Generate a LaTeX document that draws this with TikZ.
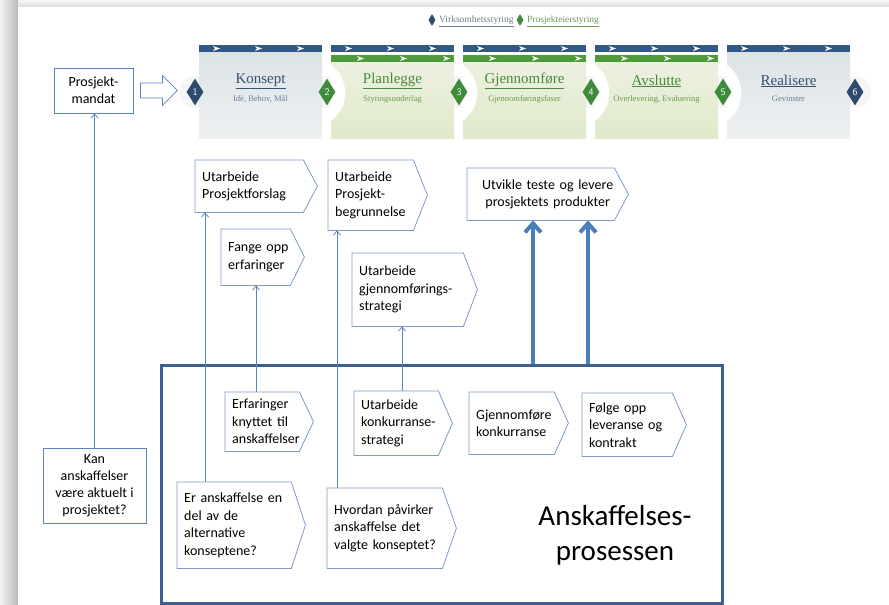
\documentclass[tikz,border=0pt]{standalone}
\usepackage{fontspec}
\setmainfont{Carlito}
\newfontfamily\phasefont{Liberation Serif}
\usetikzlibrary{shapes.geometric, arrows.meta}

\definecolor{barblue}{HTML}{2F5A88}
\definecolor{bargreen}{HTML}{4D9B3B}
\definecolor{trinnblue}{HTML}{2C4B6E}
\definecolor{trinngreen}{HTML}{3E8B3A}
\definecolor{titleblue}{HTML}{3B4F72}
\definecolor{titlegreen}{HTML}{4A8A3A}
\definecolor{subblue}{HTML}{6C7E96}
\definecolor{subgreen}{HTML}{6E9A55}
\definecolor{chevblue}{HTML}{7D9BC4}
\definecolor{linkblue}{HTML}{5B83BD}
\definecolor{thickblue}{HTML}{4A7EBB}
\definecolor{frameblue}{HTML}{3F5F8F}
\definecolor{fillblue}{HTML}{DCE3E6}
\definecolor{fillblue2}{HTML}{EEF1F2}
\definecolor{fillgreen}{HTML}{ECF1E0}
\definecolor{fillgreen2}{HTML}{E0E9CB}

\tikzset{
  chev/.style={anchor=north west, align=left, inner xsep=7pt, inner ysep=2pt,
    font=\fontsize{14}{17.5}\selectfont},
  chevline/.style={draw=chevblue, line width=0.8pt, line join=miter},
  plainbox/.style={draw=linkblue, line width=0.8pt, align=center,
    font=\fontsize{14}{17}\selectfont},
  thinarrow/.style={draw=linkblue, line width=0.8pt, -{Straight Barb[length=4pt,width=7pt]}},
  thickarrow/.style={draw=thickblue, line width=4pt, -{Straight Barb[length=9pt,width=16pt]}},
  phasetitle/.style={font=\phasefont\fontsize{15}{17}\selectfont},
  phasesub/.style={font=\phasefont\fontsize{8.5}{10}\selectfont},
  trinn/.style={diamond, inner sep=0pt, minimum width=17pt, minimum height=27pt,
    text=white, font=\sffamily\fontsize{10}{11}\selectfont},
  legtext/.style={anchor=west, inner sep=1pt, font=\phasefont\fontsize{9.5}{11}\selectfont},
}

\begin{document}
\begin{tikzpicture}[x=1pt, y=-1pt]
  % page and shadow
  \fill[gray!14] (0,0) rectangle (889,605);
  \shade[left color=gray!10, right color=gray!55] (0,0) rectangle (18,605);
  \shade[top color=gray!6, bottom color=gray!28] (18,0) rectangle (889,7);
  \fill[white] (18,7) rectangle (889,605);
  \useasboundingbox (0,0) rectangle (889,605);

  % legend
  \node[diamond, fill=trinnblue, minimum width=7pt, minimum height=12pt, inner sep=0pt] (legblue) at (432,20) {};
  \node[legtext, text=subblue] (legvirk) at (438,21) {\underline{Virksomhetsstyring}};
  \node[diamond, fill=trinngreen, minimum width=7pt, minimum height=12pt, inner sep=0pt] (leggreen) at (520,20) {};
  \node[legtext, text=subgreen] (legeier) at (526,21) {\underline{Prosjekteierstyring}};

  % phase strip
  \foreach \x in {195,327,459,591,723,855}
    \fill[gray!7] (\x,92) circle (16);
  \foreach \x/\top/\fa/\fb/\tc/\sc/\tittel/\undertekst in {
      199/52/fillblue/fillblue2/titleblue/subblue/Konsept/{Idè, Behov, Mål},
      331/62/fillgreen/fillgreen2/titlegreen/subgreen/Planlegge/Styringsunderlag,
      463/62/fillgreen/fillgreen2/titlegreen/subgreen/Gjennomføre/Gjennomføringsfaser,
      595/62/fillgreen/fillgreen2/titlegreen/subgreen/Avslutte/{Overlevering, Evaluering},
      727/52/fillblue/fillblue2/titleblue/subblue/Realisere/Gevinster} {
    \shade[top color=\fa, bottom color=\fb] (\x,\top) rectangle ({\x+123},138);
    \fill[barblue] (\x,45) rectangle ({\x+123},52);
    \foreach \dx in {14,56,98}
      \fill[white] ({\x+\dx},46) -- ++(7,2.5) -- ++(-7,2.5) -- ++(2,-2.5) -- cycle;
    \node[phasetitle, text=\tc] (tittel\x) at ({\x+61.5},81) {\underline{\tittel}};
    \node[phasesub, text=\sc] (under\x) at ({\x+61.5},99) {\undertekst};
  }
  \foreach \x in {331,463,595} {
    \fill[bargreen] (\x,55) rectangle ({\x+123},62);
    \foreach \dx in {26,69,112}
      \fill[white] ({\x+\dx},56) -- ++(7,2.5) -- ++(-7,2.5) -- ++(2,-2.5) -- cycle;
  }
  \foreach \x in {331,463,595,727}
    \fill[white] (\x,65) .. controls ({\x+19},79) and ({\x+19},107) .. (\x,121) -- cycle;
  \foreach \n/\x/\f in {1/195/trinnblue, 2/327/trinngreen, 3/459/trinngreen,
                        4/591/trinngreen, 5/723/trinngreen, 6/855/trinnblue}
    \node[trinn, fill=\f] (trinn\n) at (\x,92) {\n};

  % left column
  \node[plainbox, minimum width=79pt, minimum height=45pt] (mandat) at (93.5,90.5) {Prosjekt-\\mandat};
  \node[plainbox, minimum width=103pt, minimum height=75pt] (kan) at (94.5,485.5)
    {Kan\\anskaffelser\\være aktuelt i\\prosjektet?};
  \coordinate (pilstart) at ([xshift=7pt]mandat.east);
  \draw[draw=linkblue, line width=0.7pt, line join=miter] (pilstart) ++(0,-7.5) -- ++(22,0)
    -- ++(0,-7.5) -- ++(15,15) -- ++(-15,15) -- ++(0,-7.5) -- ++(-22,0) -- cycle;

  % project tasks
  \node[chev, text width=108pt, minimum height=52pt] (forslag) at (195,160) {Utarbeide\\Prosjektforslag};
  \node[chev, text width=69pt, minimum height=56pt] (fange) at (221,229) {Fange opp\\erfaringer};
  \node[chev, text width=85pt, minimum height=70pt] (begrunn) at (328,160) {Utarbeide\\Prosjekt-\\begrunnelse};
  \node[chev, text width=111pt, minimum height=73pt] (gjstrat) at (352,253) {Utarbeide\\gjennomførings-\\strategi};
  \node[chev, text width=147pt, minimum height=52pt, align=center] (utvikle) at (467,168)
    {Utvikle teste og levere\\prosjektets produkter};

  % procurement process
  \node[draw=frameblue, line width=2.5pt, minimum width=561pt, minimum height=238pt,
        anchor=north west, inner sep=0pt] (anskaffelse) at (160,364) {};
  \node[font=\fontsize{29}{35}\selectfont, align=center] (prosesstekst) at (615,535) {Anskaffelses-\\prosessen};
  \node[chev, text width=74pt, minimum height=59pt] (erf) at (225,392) {Erfaringer\\knyttet til\\anskaffelser};
  \node[chev, text width=84pt, minimum height=64pt] (konk) at (354,391) {Utarbeide\\konkurranse-\\strategi};
  \node[chev, text width=85pt, minimum height=62pt] (gjkonk) at (469,392) {Gjennomføre\\konkurranse};
  \node[chev, text width=90pt, minimum height=63pt] (folge) at (582,393) {Følge opp\\leveranse og\\kontrakt};
  \node[chev, text width=114pt, minimum height=86pt] (er) at (177,482)
    {Er anskaffelse en\\del av de\\alternative\\konseptene?};
  \node[chev, text width=115pt, minimum height=80pt] (hvordan) at (327,488)
    {Hvordan påvirker\\anskaffelse det\\valgte konseptet?};

  \foreach \n in {forslag,fange,begrunn,gjstrat,utvikle,erf,konk,gjkonk,folge,er,hvordan}
    \draw[chevline] (\n.north west) -- ([xshift=-14pt]\n.north east) -- (\n.east)
      -- ([xshift=-14pt]\n.south east) -- (\n.south west) -- cycle;

  % connectors
  \draw[thinarrow] (kan.north) -- (kan.north |- mandat.south);
  \draw[thinarrow] ([xshift=28pt]er.north west) -- ([xshift=28pt]er.north west |- forslag.south);
  \draw[thinarrow] ([xshift=31pt]erf.north west) -- ([xshift=31pt]erf.north west |- fange.south);
  \draw[thinarrow] ([xshift=10pt]hvordan.north west) -- ([xshift=10pt]hvordan.north west |- begrunn.south);
  \draw[thinarrow] ([xshift=48pt]konk.north west) -- ([xshift=48pt]konk.north west |- gjstrat.south);
  \draw[thickarrow] ([xshift=66pt]utvikle.south west |- anskaffelse.north) -- ([xshift=66pt]utvikle.south west);
  \draw[thickarrow] ([xshift=121pt]utvikle.south west |- anskaffelse.north) -- ([xshift=121pt]utvikle.south west);
\end{tikzpicture}
\end{document}
